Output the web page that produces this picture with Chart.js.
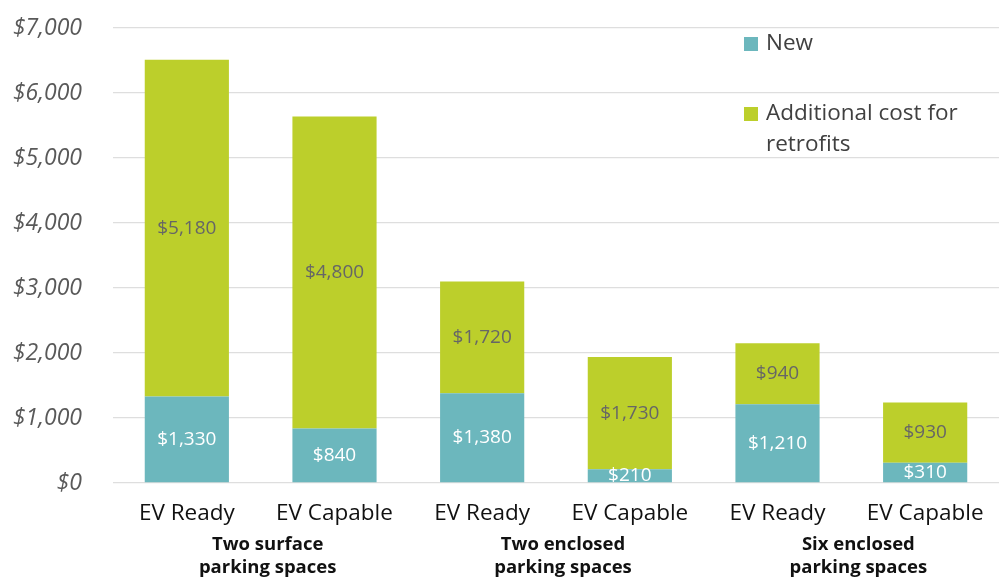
<!DOCTYPE html>
<html lang="en">
<head>
    <meta charset="UTF-8">
    <title>EV Ready vs EV Capable costs</title>
    <script src="https://cdn.jsdelivr.net/npm/chart.js"></script>
    <style>
        html, body { margin: 0; padding: 0; background: #fff; }
        #wrap { width: 999px; height: 579px; position: relative; }
    </style>
</head>
<body>

    <div id="wrap"><canvas id="costChart"></canvas></div>

    <script>
        // Data
        const categories = ["EV Ready", "EV Capable", "EV Ready", "EV Capable", "EV Ready", "EV Capable"];
        const newCost = [1330, 840, 1380, 210, 1210, 310];
        const retrofitCost = [5180, 4800, 1720, 1730, 940, 930];
        const groupLabels = [
            ["Two surface", "parking spaces"],
            ["Two enclosed", "parking spaces"],
            ["Six enclosed", "parking spaces"]
        ];
        const seriesNames = ["New", ["Additional cost for", "retrofits"]];

        const TEAL = "#6cb7bd";
        const LIME = "#bccf2b";
        const FONT = "'Open Sans', 'DejaVu Sans', sans-serif";

        const money = v => "$" + v.toLocaleString("en-US");

        // value labels inside each bar segment
        const barLabels = {
            id: "barLabels",
            afterDatasetsDraw(chart) {
                const ctx = chart.ctx;
                ctx.save();
                ctx.font = "19px " + FONT;
                ctx.textAlign = "center";
                ctx.textBaseline = "middle";
                chart.data.datasets.forEach((ds, i) => {
                    const meta = chart.getDatasetMeta(i);
                    ctx.fillStyle = i === 0 ? "#ffffff" : "#666666";
                    meta.data.forEach((bar, j) => {
                        const mid = (bar.y + bar.base) / 2;
                        ctx.fillText(money(ds.data[j]), bar.x, mid);
                    });
                });
                ctx.restore();
            }
        };

        // group captions under the category labels + legend in the top right
        const extras = {
            id: "extras",
            afterDraw(chart) {
                const ctx = chart.ctx;
                const x = chart.scales.x;
                ctx.save();
                ctx.font = "bold 18.5px " + FONT;
                ctx.fillStyle = "#111111";
                ctx.textAlign = "center";
                ctx.textBaseline = "middle";
                groupLabels.forEach((lines, g) => {
                    const cx = (x.getPixelForValue(g * 2) + x.getPixelForValue(g * 2 + 1)) / 2 + 7;
                    lines.forEach((t, k) => ctx.fillText(t, cx, 545 + k * 23));
                });

                // legend
                const lx = 744, rows = [44, 114];
                ctx.font = "22.5px " + FONT;
                ctx.textAlign = "left";
                chart.data.datasets.forEach((ds, i) => {
                    ctx.fillStyle = ds.backgroundColor;
                    ctx.fillRect(lx, rows[i] - 7, 14, 14);
                    ctx.fillStyle = "#404040";
                    const lines = Array.isArray(seriesNames[i]) ? seriesNames[i] : [seriesNames[i]];
                    lines.forEach((t, k) => ctx.fillText(t, lx + 22, rows[i] + k * 31));
                });
                ctx.restore();
            }
        };

        new Chart(document.getElementById("costChart"), {
            type: "bar",
            data: {
                labels: categories,
                datasets: [
                    { label: "New", data: newCost, backgroundColor: TEAL },
                    { label: "Additional cost for retrofits", data: retrofitCost, backgroundColor: LIME }
                ]
            },
            options: {
                responsive: true,
                maintainAspectRatio: false,
                animation: false,
                layout: { padding: { top: 28, right: 0, left: 0, bottom: 0 } },
                datasets: { bar: { categoryPercentage: 1, barPercentage: 0.57 } },
                plugins: { legend: { display: false }, tooltip: { enabled: false } },
                scales: {
                    x: {
                        stacked: true,
                        grid: { display: false },
                        border: { display: false },
                        ticks: { color: "#111", font: { family: FONT, size: 22.5 }, padding: 9, maxRotation: 0 },
                        afterFit(s) { s.height = 96; s.paddingLeft = 0; s.paddingRight = 0; }
                    },
                    y: {
                        stacked: true,
                        min: 0,
                        max: 7000,
                        grid: { color: "#dedede", lineWidth: 1.3, drawTicks: false },
                        border: { display: false },
                        ticks: {
                            stepSize: 1000,
                            color: "#595959",
                            padding: 31,
                            font: { family: FONT, size: 23, style: "italic" },
                            callback: v => money(v)
                        },
                        afterFit(s) { s.width = 113; s.paddingTop = 0; s.paddingBottom = 0; }
                    }
                }
            },
            plugins: [barLabels, extras]
        });
    </script>

</body>
</html>
